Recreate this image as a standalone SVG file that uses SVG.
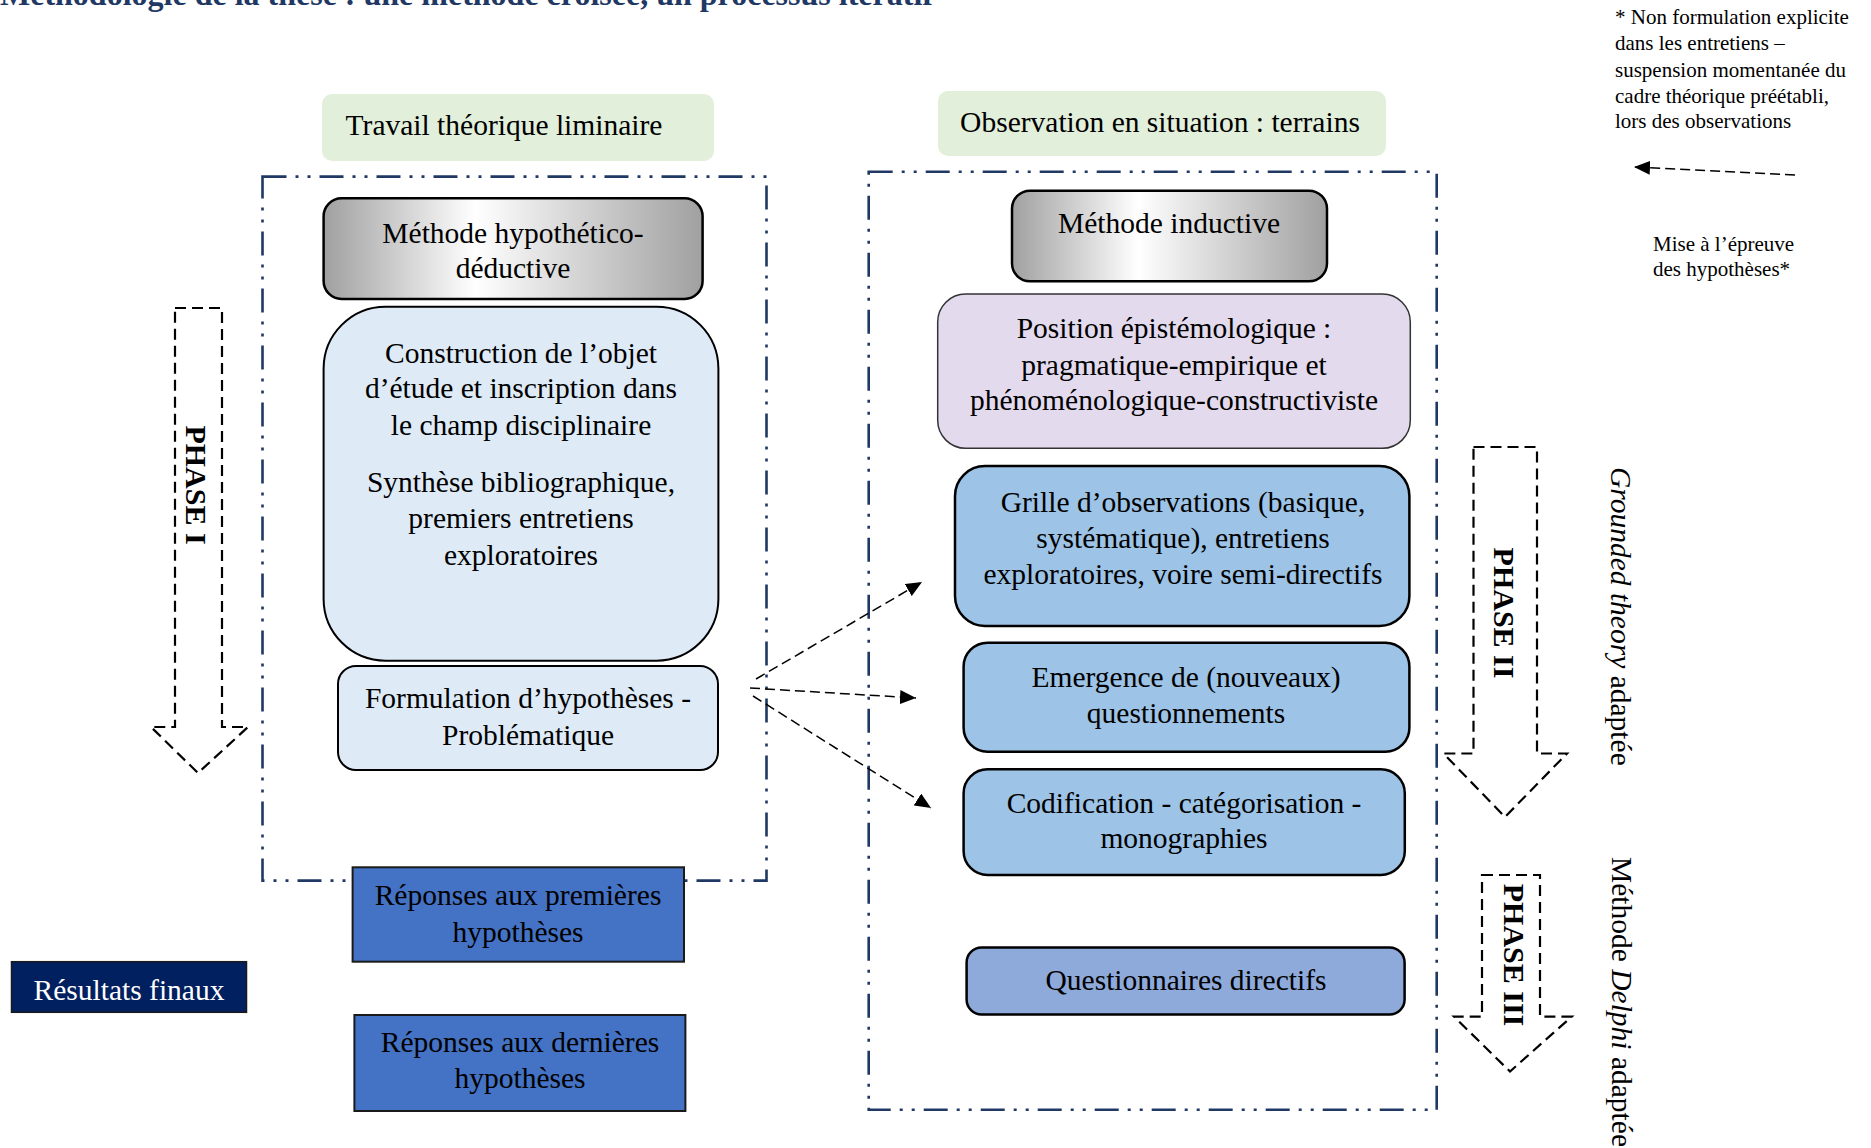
<svg xmlns="http://www.w3.org/2000/svg" width="1871" height="1148" viewBox="0 0 1871 1148">
<style>
text{font-family:"Liberation Serif","Times New Roman",serif;fill:#000}
.t{font-size:29.5px;text-anchor:middle}
.s{font-size:21px}
.ph{font-size:30px;font-weight:bold;text-anchor:middle}
.side{font-size:29.5px}
.cont{fill:none;stroke:#1F3864;stroke-width:2.6;stroke-dasharray:24 9 3 9 3 9}
.arr{fill:none;stroke:#000;stroke-width:2.2;stroke-dasharray:11 6}
.con{fill:none;stroke:#000;stroke-width:1.5;stroke-dasharray:10 5}
.grey{fill:url(#gr);stroke:#000;stroke-width:2.5}
.lb{fill:#DEEBF7;stroke:#000;stroke-width:2}
.mb{fill:#9DC3E6;stroke:#000;stroke-width:2.5}
.hd{fill:#E2EFDA}
.rep{fill:#4472C4;stroke:#1a1a1a;stroke-width:2}
</style>
<defs>
<linearGradient id="gr" x1="0" y1="0" x2="1" y2="0">
<stop offset="0" stop-color="#A0A0A0"/>
<stop offset="0.4" stop-color="#FFFFFF"/>
<stop offset="1" stop-color="#A0A0A0"/>
</linearGradient>
<marker id="ah" markerUnits="userSpaceOnUse" markerWidth="16" markerHeight="14" viewBox="0 0 16 14" refX="16" refY="7" orient="auto">
<path d="M0,0 L16,7 L0,14 z" fill="#000" stroke="none"/>
</marker>
</defs>

<text x="0" y="5" style="font-size:32px;font-weight:bold;fill:#1F3864">Méthodologie de la thèse : une méthode croisée, un processus itératif</text>

<g id="note">
<text class="s" x="1615" y="24">* Non formulation explicite</text>
<text class="s" x="1615" y="50">dans les entretiens –</text>
<text class="s" x="1615" y="76.5">suspension momentanée du</text>
<text class="s" x="1615" y="102.5">cadre théorique préétabli,</text>
<text class="s" x="1615" y="128">lors des observations</text>
</g>
<g id="mise">
<text class="s" x="1653" y="250.5">Mise à l’épreuve</text>
<text class="s" x="1653" y="275.5">des hypothèses*</text>
</g>

<g id="containers">
<rect class="cont" x="262.5" y="176.6" width="504" height="704"/>
<rect class="cont" x="868.7" y="171.8" width="568" height="938"/>
</g>

<g id="hdr-left">
<rect class="hd" x="322" y="94" width="392" height="67" rx="10"/>
<text class="t" x="504" y="135">Travail théorique liminaire</text>
</g>
<g id="hdr-right">
<rect class="hd" x="938" y="91" width="448" height="65" rx="10"/>
<text class="t" x="1160" y="131.7">Observation en situation : terrains</text>
</g>

<g id="hypo">
<rect class="grey" x="323.6" y="198.3" width="379" height="100.7" rx="18"/>
<text class="t" x="513" y="243.3">Méthode hypothético-</text>
<text class="t" x="513" y="278.3">déductive</text>
</g>
<g id="construction">
<rect class="lb" x="323.6" y="306.7" width="394.8" height="354" rx="62"/>
<text class="t" x="521" y="362.7">Construction de l’objet</text>
<text class="t" x="521" y="398.3">d’étude et inscription dans</text>
<text class="t" x="521" y="435">le champ disciplinaire</text>
<text class="t" x="521" y="491.7">Synthèse bibliographique,</text>
<text class="t" x="521" y="528.3">premiers entretiens</text>
<text class="t" x="521" y="565">exploratoires</text>
</g>
<g id="formulation">
<rect class="lb" x="338" y="666" width="380" height="104" rx="18"/>
<text class="t" x="528" y="708">Formulation d’hypothèses -</text>
<text class="t" x="528" y="745">Problématique</text>
</g>

<g id="inductive">
<rect class="grey" x="1012" y="190.7" width="315" height="90.6" rx="18"/>
<text class="t" x="1169" y="233.3">Méthode inductive</text>
</g>
<g id="position">
<rect x="937.7" y="294" width="472.6" height="154.3" rx="28" fill="#E4DAEE" stroke="#333" stroke-width="1.5"/>
<text class="t" x="1174" y="338.3">Position épistémologique :</text>
<text class="t" x="1174" y="375">pragmatique-empirique et</text>
<text class="t" x="1174" y="410">phénoménologique-constructiviste</text>
</g>
<g id="grille">
<rect class="mb" x="955" y="466" width="454.4" height="160" rx="30"/>
<text class="t" x="1183" y="511.7">Grille d’observations (basique,</text>
<text class="t" x="1183" y="548.3">systématique), entretiens</text>
<text class="t" x="1183" y="584">exploratoires, voire semi-directifs</text>
</g>
<g id="emergence">
<rect class="mb" x="963.6" y="642.7" width="445.8" height="109" rx="24"/>
<text class="t" x="1186" y="686.7">Emergence de (nouveaux)</text>
<text class="t" x="1186" y="722.7">questionnements</text>
</g>
<g id="codification">
<rect class="mb" x="963.6" y="769.3" width="441.2" height="105.7" rx="24"/>
<text class="t" x="1184" y="812.7">Codification - catégorisation -</text>
<text class="t" x="1184" y="848.3">monographies</text>
</g>
<g id="questionnaires">
<rect x="966.6" y="947.5" width="438" height="67" rx="15" fill="#8EAADB" stroke="#000" stroke-width="2.5"/>
<text class="t" x="1186" y="990">Questionnaires directifs</text>
</g>

<g id="rep1">
<rect class="rep" x="352.6" y="867.3" width="331.4" height="94.4"/>
<text class="t" x="518" y="905">Réponses aux premières</text>
<text class="t" x="518" y="941.7">hypothèses</text>
</g>
<g id="rep2">
<rect class="rep" x="354.4" y="1015" width="331" height="96"/>
<text class="t" x="520" y="1051.7">Réponses aux dernières</text>
<text class="t" x="520" y="1088.3">hypothèses</text>
</g>
<g id="resultats">
<rect x="11.5" y="961.7" width="235" height="50.6" fill="#002060" stroke="#1a1a1a" stroke-width="1.5"/>
<text class="t" x="129" y="1000.3" style="fill:#fff">Résultats finaux</text>
</g>

<g id="phase1">
<polygon class="arr" points="175,308 222,308 222,727 248,727 198,773 151,727 175,727"/>
<text class="ph" transform="translate(186,485) rotate(90)">PHASE I</text>
</g>
<g id="phase2">
<polygon class="arr" points="1473.5,447 1537,447 1537,753.5 1567,753.5 1505,817 1443.5,753.5 1473.5,753.5"/>
<text class="ph" transform="translate(1494,613) rotate(90)">PHASE II</text>
</g>
<g id="phase3">
<polygon class="arr" points="1482,875 1540,875 1540,1016.6 1571.7,1016.6 1510,1071.5 1454,1016.6 1482,1016.6"/>
<text class="ph" transform="translate(1504,955) rotate(90)">PHASE III</text>
</g>

<g id="label-grounded">
<text class="side" transform="translate(1611,467) rotate(90)"><tspan font-style="italic">Grounded theory</tspan> adaptée</text>
</g>
<g id="label-delphi">
<text class="side" transform="translate(1612,857) rotate(90)">Méthode <tspan font-style="italic">Delphi</tspan> adaptée</text>
</g>

<g id="connectors">
<line class="con" x1="756" y1="679" x2="922" y2="582" marker-end="url(#ah)"/>
<line class="con" x1="750" y1="688" x2="916" y2="698" marker-end="url(#ah)"/>
<line class="con" x1="753" y1="696" x2="931" y2="808" marker-end="url(#ah)"/>
<line class="con" x1="1795" y1="175" x2="1634" y2="167" marker-end="url(#ah)"/>
</g>
</svg>
